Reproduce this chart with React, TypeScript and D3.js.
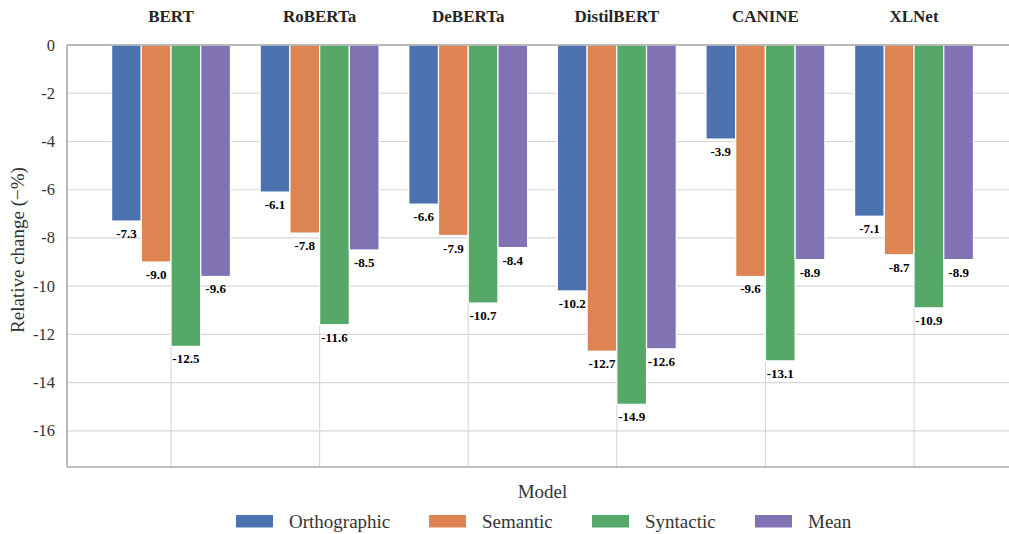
import React from "react";
import * as d3 from "d3";

const models = ["BERT", "RoBERTa", "DeBERTa", "DistilBERT", "CANINE", "XLNet"];
const seriesNames = ["Orthographic", "Semantic", "Syntactic", "Mean"];
const orthographic = [-7.3, -6.1, -6.6, -10.2, -3.9, -7.1];
const semantic = [-9.0, -7.8, -7.9, -12.7, -9.6, -8.7];
const syntactic = [-12.5, -11.6, -10.7, -14.9, -13.1, -10.9];
const mean = [-9.6, -8.5, -8.4, -12.6, -8.9, -8.9];
const yTicks = [0, -2, -4, -6, -8, -10, -12, -14, -16];
const colors = ["#4C72B0", "#DD8452", "#55A868", "#8172B3"];

const W = 1009;
const H = 534;
const FONT = "Liberation Serif";

const left = 67, top = 45, bottom = 467;
const step = 148.6;
const right = left + 6.4 * step;
const x = d3.scaleLinear().domain([-0.7, 5.7]).range([left, right]);
const y = d3.scaleLinear().domain([0, -17.5]).range([top, bottom]);
const bw = 0.8 / 4;

const legendX = [236, 429, 592, 755];

export default function App() {
  const series = [orthographic, semantic, syntactic, mean];
  const grid = "#d6d6d6";
  const spine = "#a8a8a8";
  return (
    <div style={{ position: "absolute", left: 0, top: 0, width: W, height: H, overflow: "hidden", background: "#fff" }}>
      <svg width={W} height={H} style={{ display: "block", fontFamily: FONT }}>
        {yTicks.map((t) => (
          <line key={`hg${t}`} x1={left} x2={right} y1={y(t)} y2={y(t)} stroke={grid} strokeWidth={1.1} />
        ))}
        {models.map((m, i) => (
          <line key={`vg${m}`} x1={x(i)} x2={x(i)} y1={top} y2={bottom} stroke={grid} strokeWidth={1.1} />
        ))}
        {series.map((vals, s) => {
          const off = (s - 1.5) * bw;
          return (
            <g key={`s${s}`}>
              {vals.map((v, i) => (
                <rect key={i} x={x(i + off - bw / 2)} width={x(bw) - x(0)} y={y(0)} height={y(v) - y(0)}
                  fill={colors[s]} stroke="#fff" strokeWidth={1.2} />
              ))}
            </g>
          );
        })}
        {series.map((vals, s) => {
          const off = (s - 1.5) * bw;
          return (
            <g key={`l${s}`}>
              {vals.map((v, i) => (
                <text key={i} x={x(i + off)} y={y(v) + 17} textAnchor="middle"
                  style={{ fontFamily: FONT, fontWeight: "bold", fontSize: "13px" }} fill="#000">
                  {v.toFixed(1)}
                </text>
              ))}
            </g>
          );
        })}
        <line x1={left} x2={right} y1={top} y2={top} stroke={spine} strokeWidth={1.6} />
        <line x1={left} x2={right} y1={bottom} y2={bottom} stroke={spine} strokeWidth={1.6} />
        <line x1={left} x2={left} y1={top} y2={bottom} stroke={spine} strokeWidth={1.6} />
        {yTicks.map((t) => (
          <text key={`yt${t}`} x={55} y={y(t) + 5.5} textAnchor="end" fill="#333"
            style={{ fontFamily: FONT, fontSize: "16.5px" }}>{String(t)}</text>
        ))}
        {models.map((m, i) => (
          <text key={`c${m}`} x={x(i)} y={22} textAnchor="middle" fill="#262626"
            style={{ fontFamily: FONT, fontWeight: "bold", fontSize: "17px" }}>{m}</text>
        ))}
        <text transform={`translate(24,250) rotate(-90)`} textAnchor="middle" fill="#333"
          style={{ fontFamily: FONT, fontSize: "19px" }}>Relative change (−%)</text>
        <text x={(left + right) / 2} y={498} textAnchor="middle" fill="#333"
          style={{ fontFamily: FONT, fontSize: "19px" }}>Model</text>
        {seriesNames.map((n, s) => (
          <g key={`lg${n}`}>
            <rect x={legendX[s]} y={515} width={37} height={12.5} fill={colors[s]} />
            <text x={legendX[s] + 53} y={528} fill="#333" style={{ fontFamily: FONT, fontSize: "19px" }}>{n}</text>
          </g>
        ))}
      </svg>
    </div>
  );
}
